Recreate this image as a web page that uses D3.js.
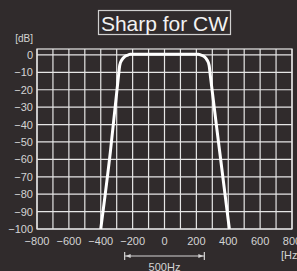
<!DOCTYPE html>
<html><head><meta charset="utf-8">
<script src="https://cdn.jsdelivr.net/npm/d3@7"></script>
<style>
html,body{margin:0;padding:0;background:#302b2c;}
svg{display:block;font-family:"Liberation Sans",Arial,sans-serif;}
</style></head>
<body>
<script>
const title = "Sharp for CW";
const xTicks = [-800,-600,-400,-200,0,200,400,600,800];
const xGrid = [-800,-700,-600,-500,-400,-300,-200,-100,0,100,200,300,400,500,600,700,800];
const yTicks = [0,-10,-20,-30,-40,-50,-60,-70,-80,-90,-100];
const curveHz = [-400,-340,-288,-281,-268,-250,-230,-216,0,212,230,250,267,280,287,345,407];
const curveDb = [-100,-56,-11.5,-6,-2.9,-1.0,-0.1,0.4,0.4,0.4,-0.1,-1.0,-2.9,-6,-11.5,-54.6,-100];
const spanHz = [-250,250];
const spanLabel = "500Hz";

const W=297,H=271;
const svg=d3.select("body").append("svg").attr("width",W).attr("height",H);
const x=d3.scaleLinear().domain([-800,800]).range([37,292]);
const y=d3.scaleLinear().domain([3.4,-100]).range([49,229]);
const col="#e6e6e6", txt="#d4d4d4";

// grid
svg.append("g").selectAll("line").data(xGrid).join("line")
  .attr("x1",d=>x(d)).attr("x2",d=>x(d)).attr("y1",y(3.4)).attr("y2",y(-100))
  .attr("stroke",col).attr("stroke-width",1.2);
svg.append("g").selectAll("line").data(yTicks).join("line")
  .attr("x1",x(-800)).attr("x2",x(800)).attr("y1",d=>y(d)).attr("y2",d=>y(d))
  .attr("stroke",col).attr("stroke-width",1.2);
svg.append("rect").attr("x",x(-800)).attr("y",y(3.4)).attr("width",x(800)-x(-800)).attr("height",y(-100)-y(3.4))
  .attr("fill","none").attr("stroke",col).attr("stroke-width",1.2);

// axes labels
const fmt=d=>d<0?"\u2212"+Math.abs(d):String(d);
svg.append("g").selectAll("text").data(yTicks).join("text")
  .attr("x",33).attr("y",d=>y(d)+4).attr("text-anchor","end")
  .attr("font-size",11).attr("fill",txt).text(fmt);
svg.append("g").selectAll("text").data(xTicks).join("text")
  .attr("x",d=>x(d)).attr("y",245).attr("text-anchor","middle")
  .attr("font-size",11).attr("fill",txt).text(fmt);
svg.append("text").attr("x",33).attr("y",42).attr("text-anchor","end").attr("font-size",10).attr("fill",txt).text("[dB]");
svg.append("text").attr("x",281).attr("y",259).attr("font-size",11).attr("fill",txt).text("[Hz]");

// curve
const pts=curveHz.map((h,i)=>[h,curveDb[i]]);
svg.append("path").datum(pts)
  .attr("d",d3.line().x(d=>x(d[0])).y(d=>y(d[1])).curve(d3.curveMonotoneX))
  .attr("fill","none").attr("stroke","#ffffff").attr("stroke-width",3).attr("stroke-linejoin","round");

// 500Hz bracket
const by=256;
svg.append("line").attr("x1",x(spanHz[0])).attr("x2",x(spanHz[1])).attr("y1",by).attr("y2",by).attr("stroke",txt).attr("stroke-width",1);
svg.append("g").selectAll("line").data(spanHz).join("line")
  .attr("x1",d=>x(d)).attr("x2",d=>x(d)).attr("y1",by-4).attr("y2",by+4).attr("stroke",txt).attr("stroke-width",1.2);
svg.append("path").attr("d",`M${x(spanHz[0])+1},${by} l5,-2 v4 z M${x(spanHz[1])-1},${by} l-5,-2 v4 z`).attr("fill",txt);
svg.append("text").attr("x",(x(spanHz[0])+x(spanHz[1]))/2).attr("y",271).attr("text-anchor","middle")
  .attr("font-size",11).attr("fill",txt).text(spanLabel);

// title
const tg=svg.append("g");
tg.append("rect").attr("x",98.5).attr("y",10.5).attr("width",132).attr("height",24).attr("fill","none").attr("stroke","#cfcfcf").attr("stroke-width",1.2);
tg.append("text").attr("x",164.5).attr("y",30.5).attr("text-anchor","middle").attr("font-size",21).attr("fill","#f2f2f2").text(title);
</script>
</body></html>
